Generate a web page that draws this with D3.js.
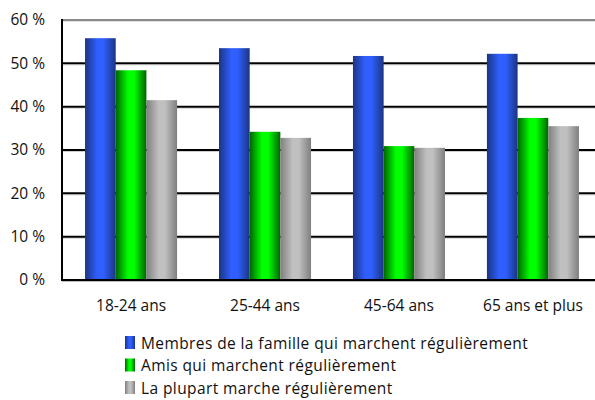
<!DOCTYPE html>
<html>
<head>
<meta charset="utf-8">
<script src="https://cdn.jsdelivr.net/npm/d3@7"></script>
<style>
  html, body { margin: 0; padding: 0; background: #fff; }
  svg { display: block; }
  text { font-family: "Open Sans", "DejaVu Sans", sans-serif; fill: #111; }
</style>
</head>
<body>
<svg id="chart" width="595" height="400"></svg>
<script>
// Age groups along the x axis
const categories = ["18-24 ans", "25-44 ans", "45-64 ans", "65 ans et plus"];
// Series names (legend)
const seriesNames = [
  "Membres de la famille qui marchent régulièrement",
  "Amis qui marchent régulièrement",
  "La plupart marche régulièrement"
];
// Percentages per series, one value per age group
const famille = [55.8, 53.5, 51.7, 52.2];
const amis = [48.4, 34.2, 30.9, 37.4];
const plupart = [41.5, 32.8, 30.5, 35.5];
const yTicks = [0, 10, 20, 30, 40, 50, 60];

const seriesValues = [famille, amis, plupart];
const palette = [
  { edge: "#1b3582", mid: "#2f5fff", id: "gBlue" },
  { edge: "#006400", mid: "#00ff00", id: "gGreen" },
  { edge: "#7f7f7f", mid: "#c0c0c0", id: "gGray" }
];

const svg = d3.select("#chart");
const plotLeft = 62, plotRight = 602, plotTop = 20, plotBottom = 280;
const fontSize = 15.5;

const x = d3.scaleBand().domain(categories).range([plotLeft, plotRight]).paddingInner(0.313).paddingOuter(0.172);
const xs = d3.scaleBand().domain(d3.range(3)).range([0, x.bandwidth()]);
const y = d3.scaleLinear().domain([0, 60]).range([plotBottom, plotTop]);

// Cylinder-like shading for bars
const defs = svg.append("defs");
palette.forEach(p => {
  const g = defs.append("linearGradient").attr("id", p.id)
    .attr("x1", "0%").attr("x2", "100%").attr("y1", "0%").attr("y2", "0%");
  g.append("stop").attr("offset", "0%").attr("stop-color", p.edge);
  g.append("stop").attr("offset", "40%").attr("stop-color", p.mid);
  g.append("stop").attr("offset", "60%").attr("stop-color", p.mid);
  g.append("stop").attr("offset", "100%").attr("stop-color", p.edge);
});

// Gridlines with a light shadow under each
const grid = svg.append("g");
yTicks.filter(t => t > 0 && t < 60).forEach(t => {
  grid.append("line").attr("x1", plotLeft).attr("x2", 595)
    .attr("y1", y(t) + 1.5).attr("y2", y(t) + 1.5)
    .attr("stroke", "#cfcfcf").attr("stroke-width", 1);
  grid.append("line").attr("x1", plotLeft).attr("x2", 595)
    .attr("y1", y(t)).attr("y2", y(t))
    .attr("stroke", "#000").attr("stroke-width", 2);
});
// Top border
grid.append("line").attr("x1", plotLeft).attr("x2", 595)
  .attr("y1", y(60) + 1.5).attr("y2", y(60) + 1.5)
  .attr("stroke", "#e0e0e0").attr("stroke-width", 1);
grid.append("line").attr("x1", plotLeft).attr("x2", 595)
  .attr("y1", y(60)).attr("y2", y(60))
  .attr("stroke", "#8a8a8a").attr("stroke-width", 2);

// Bars
const groups = svg.append("g").selectAll("g").data(categories).join("g")
  .attr("transform", d => `translate(${x(d)},0)`);
groups.selectAll("rect")
  .data((c, ci) => seriesValues.map((vals, si) => ({ si, v: vals[ci] })))
  .join("rect")
  .attr("x", d => xs(d.si))
  .attr("width", xs.bandwidth())
  .attr("y", d => y(d.v))
  .attr("height", d => y(0) - y(d.v))
  .attr("fill", d => `url(#${palette[d.si].id})`);

// Axes
const yAxis = svg.append("g").attr("transform", `translate(${plotLeft},0)`)
  .call(d3.axisLeft(y).tickValues(yTicks).tickSize(0).tickPadding(17).tickFormat(d => d + " %"));
yAxis.select(".domain").remove();
yAxis.selectAll("text").attr("font-size", fontSize).style("font-family", "\"Open Sans\", sans-serif").attr("fill", "#111");

svg.append("line").attr("x1", plotLeft).attr("x2", 595).attr("y1", plotBottom + 1.5).attr("y2", plotBottom + 1.5)
  .attr("stroke", "#bdbdbd").attr("stroke-width", 1);
svg.append("line").attr("x1", plotLeft - 1).attr("x2", 595).attr("y1", plotBottom).attr("y2", plotBottom)
  .attr("stroke", "#000").attr("stroke-width", 2);
svg.append("line").attr("x1", plotLeft).attr("x2", plotLeft).attr("y1", plotTop - 1).attr("y2", plotBottom)
  .attr("stroke", "#000").attr("stroke-width", 2);

const xAxis = svg.append("g").attr("transform", `translate(0,${plotBottom})`)
  .call(d3.axisBottom(x).tickSize(0).tickPadding(20));
xAxis.select(".domain").remove();
xAxis.selectAll("text").attr("font-size", fontSize).style("font-family", "\"Open Sans\", sans-serif").attr("fill", "#111");

// Legend
const legend = svg.append("g").attr("transform", "translate(125,336)");
seriesNames.forEach((name, i) => {
  const row = legend.append("g").attr("transform", `translate(0,${i * 22.5})`);
  row.append("rect").attr("width", 10).attr("height", 13)
    .attr("fill", `url(#${palette[i].id})`);
  row.append("text").attr("x", 16).attr("y", 12.5).attr("font-size", fontSize)
    .attr("letter-spacing", 0.4).text(name);
});
</script>
</body>
</html>
